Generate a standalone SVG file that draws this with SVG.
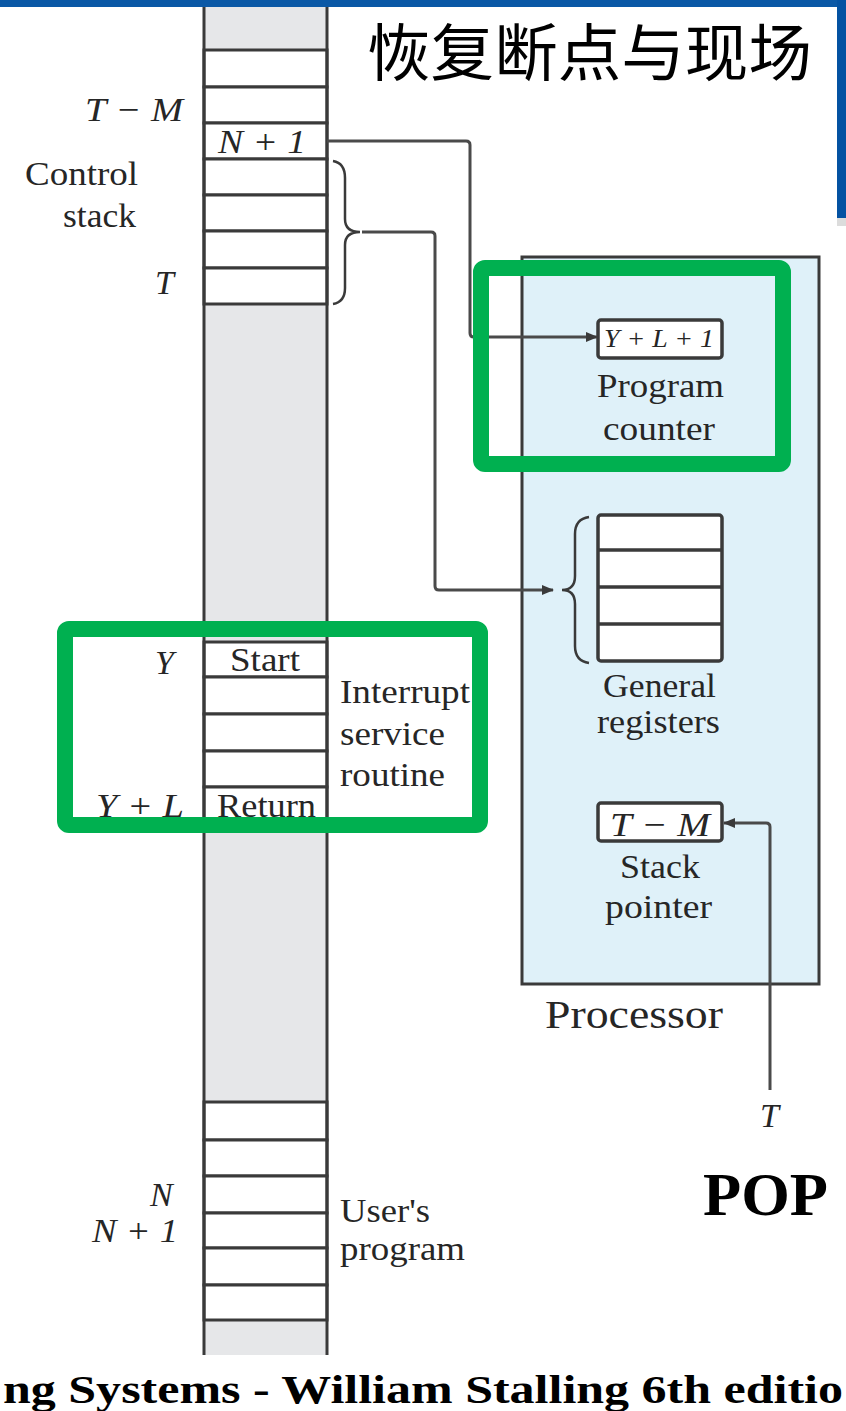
<svg xmlns="http://www.w3.org/2000/svg" width="846" height="1411" viewBox="0 0 846 1411">
<style>
.lbl{font-family:"Liberation Serif","Times New Roman",serif;font-size:34px;fill:#262626}
.it{font-style:italic}
.cell{fill:#fff;stroke:#3a3a3a;stroke-width:3}
.reg{fill:#fff;stroke:#3a3a3a;stroke-width:3.5}
.conn{fill:none;stroke:#4a4a4a;stroke-width:3}
.brace{fill:none;stroke:#3a3a3a;stroke-width:2.5}
.green{fill:none;stroke:#00b050;stroke-width:16}
</style>
<defs>
<marker id="arr" viewBox="0 0 12 10" refX="11" refY="5" markerWidth="12" markerHeight="10" markerUnits="userSpaceOnUse" orient="auto">
<path d="M0,0 L12,5 L0,10 z" fill="#3a3a3a"/>
</marker>
</defs>
<rect width="846" height="1411" fill="#fff"/>
<g id="header">
<rect x="0" y="0" width="846" height="7" fill="#0a58a6"/>
<rect x="837" y="0" width="9" height="218" fill="#0452a2"/>
<rect x="837" y="218" width="9" height="8" fill="#dcdcdc"/>
<text x="367" y="76" textLength="445" lengthAdjust="spacingAndGlyphs" style="font-family:'Noto Sans CJK SC',sans-serif;font-size:62px;fill:#000">恢复断点与现场</text>
</g>
<g id="memory">
<rect x="204" y="7" width="123" height="1348" fill="#e6e7e9"/>
<g id="control-stack">
<rect class="cell" x="204" y="50" width="123" height="37"/>
<rect class="cell" x="204" y="87" width="123" height="36"/>
<rect class="cell" x="204" y="123" width="123" height="36"/>
<rect class="cell" x="204" y="159" width="123" height="36"/>
<rect class="cell" x="204" y="195" width="123" height="36"/>
<rect class="cell" x="204" y="231" width="123" height="37"/>
<rect class="cell" x="204" y="268" width="123" height="36"/>
<text class="lbl it" x="218" y="153" textLength="88" lengthAdjust="spacingAndGlyphs">N + 1</text>
</g>
<g id="isr">
<rect class="cell" x="204" y="642" width="123" height="35"/>
<rect class="cell" x="204" y="677" width="123" height="37"/>
<rect class="cell" x="204" y="714" width="123" height="37"/>
<rect class="cell" x="204" y="751" width="123" height="36"/>
<rect class="cell" x="204" y="787" width="123" height="35"/>
<text class="lbl" x="230" y="671" textLength="70" lengthAdjust="spacingAndGlyphs">Start</text>
<text class="lbl" x="217" y="817" textLength="99" lengthAdjust="spacingAndGlyphs">Return</text>
</g>
<g id="user-program">
<rect class="cell" x="204" y="1102" width="123" height="38"/>
<rect class="cell" x="204" y="1140" width="123" height="36"/>
<rect class="cell" x="204" y="1176" width="123" height="37"/>
<rect class="cell" x="204" y="1213" width="123" height="35"/>
<rect class="cell" x="204" y="1248" width="123" height="37"/>
<rect class="cell" x="204" y="1285" width="123" height="35"/>
</g>
<line x1="204" y1="7" x2="204" y2="1355" stroke="#3a3a3a" stroke-width="3"/>
<line x1="327" y1="7" x2="327" y2="1355" stroke="#3a3a3a" stroke-width="3"/>
</g>
<g id="memory-labels">
<text class="lbl it" x="85" y="121" textLength="98" lengthAdjust="spacingAndGlyphs">T − M</text>
<text class="lbl" x="25" y="185" textLength="113" lengthAdjust="spacingAndGlyphs">Control</text>
<text class="lbl" x="63" y="227" textLength="73" lengthAdjust="spacingAndGlyphs">stack</text>
<text class="lbl it" x="155" y="294">T</text>
<text class="lbl it" x="155" y="674">Y</text>
<text class="lbl" x="340" y="703" textLength="130" lengthAdjust="spacingAndGlyphs">Interrupt</text>
<text class="lbl" x="340" y="745" textLength="105" lengthAdjust="spacingAndGlyphs">service</text>
<text class="lbl" x="340" y="786" textLength="105" lengthAdjust="spacingAndGlyphs">routine</text>
<text class="lbl it" x="96" y="817" textLength="88" lengthAdjust="spacingAndGlyphs">Y + L</text>
<text class="lbl it" x="150" y="1206">N</text>
<text class="lbl it" x="92" y="1242" textLength="86" lengthAdjust="spacingAndGlyphs">N + 1</text>
<text class="lbl" x="340" y="1222" textLength="90" lengthAdjust="spacingAndGlyphs">User's</text>
<text class="lbl" x="340" y="1260" textLength="125" lengthAdjust="spacingAndGlyphs">program</text>
</g>
<g id="processor">
<rect x="522" y="257" width="297" height="727" fill="#dff1f9" stroke="#3a3a3a" stroke-width="3"/>
<text class="lbl" x="545" y="1028" style="font-size:40px" textLength="178" lengthAdjust="spacingAndGlyphs">Processor</text>
</g>
<g id="program-counter">
<rect class="reg" x="598" y="320" width="124" height="38" rx="3"/>
<text class="lbl it" x="604" y="347" style="font-size:26px" textLength="110" lengthAdjust="spacingAndGlyphs">Y + L + 1</text>
<text class="lbl" x="597" y="397" textLength="127" lengthAdjust="spacingAndGlyphs">Program</text>
<text class="lbl" x="603" y="440" textLength="112" lengthAdjust="spacingAndGlyphs">counter</text>
</g>
<g id="general-registers">
<rect class="reg" x="598" y="515" width="124" height="146" rx="3"/>
<line x1="598" y1="550" x2="722" y2="550" stroke="#3a3a3a" stroke-width="3.5"/>
<line x1="598" y1="587" x2="722" y2="587" stroke="#3a3a3a" stroke-width="3.5"/>
<line x1="598" y1="624" x2="722" y2="624" stroke="#3a3a3a" stroke-width="3.5"/>
<path class="brace" d="M589,517 Q575,519 575,534 L575,576 Q575,590 562,590 Q575,590 575,604 L575,646 Q575,661 589,663"/>
<text class="lbl" x="603" y="697" textLength="113" lengthAdjust="spacingAndGlyphs">General</text>
<text class="lbl" x="597" y="733" textLength="123" lengthAdjust="spacingAndGlyphs">registers</text>
</g>
<g id="stack-pointer">
<rect class="reg" x="598" y="803" width="124" height="38" rx="3"/>
<text class="lbl it" x="610" y="836" textLength="100" lengthAdjust="spacingAndGlyphs">T − M</text>
<text class="lbl" x="620" y="878" textLength="80" lengthAdjust="spacingAndGlyphs">Stack</text>
<text class="lbl" x="605" y="918" textLength="107" lengthAdjust="spacingAndGlyphs">pointer</text>
</g>
<g id="connectors">
<path class="brace" d="M333,161 Q345,163 345,178 L345,219 Q345,232 360,232 Q345,232 345,245 L345,288 Q345,302 333,304"/>
<path class="conn" d="M327,141 L466,141 Q470,141 470,145 L470,333 Q470,337 474,337 L597,337" marker-end="url(#arr)"/>
<path class="conn" d="M362,232 L431,232 Q435,232 435,236 L435,586 Q435,590 439,590 L553,590" marker-end="url(#arr)"/>
<path class="conn" d="M770,1090 L770,827 Q770,823 766,823 L724,823" marker-end="url(#arr)"/>
<text class="lbl it" x="760" y="1127">T</text>
</g>
<g id="highlights">
<rect class="green" x="481" y="268" width="302" height="196" rx="4"/>
<rect class="green" x="65" y="629" width="415" height="196" rx="4"/>
</g>
<g id="footer">
<text x="703" y="1215" textLength="125" lengthAdjust="spacingAndGlyphs" style="font-family:'Liberation Serif',serif;font-weight:bold;font-size:62px;fill:#000">POP</text>
<text x="3" y="1403" textLength="840" lengthAdjust="spacingAndGlyphs" style="font-family:'Liberation Serif',serif;font-weight:bold;font-size:40px;fill:#000">ng Systems - William Stalling 6th editio</text>
</g>
</svg>
